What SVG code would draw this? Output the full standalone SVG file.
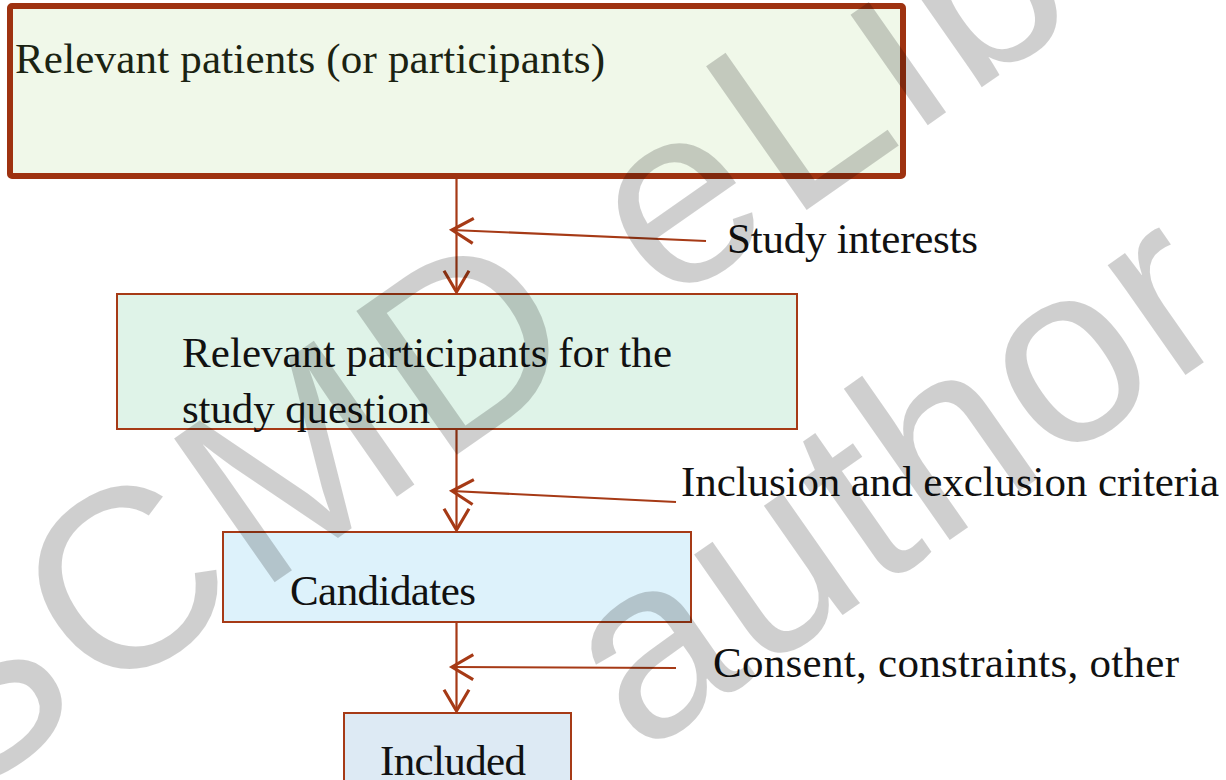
<svg xmlns="http://www.w3.org/2000/svg" width="1226" height="780" viewBox="0 0 1226 780">
  <style>
    .lbl { font-family: "Liberation Serif", "Times New Roman", serif; font-size: 43px; fill: #111; }
    .t1 { fill: #1b2312; }
    .box { stroke: #a63a16; stroke-width: 2; }
    .conn { stroke: #a63a16; stroke-width: 2.2; fill: none; }
    .wm { font-family: "Liberation Sans", Arial, sans-serif; font-size: 255px; fill: #000; fill-opacity: 0.19; }
  </style>
  <defs>
    <marker id="arr" markerUnits="userSpaceOnUse" markerWidth="30" markerHeight="30" viewBox="-20 -12 24 24" refX="0" refY="0" orient="auto">
      <path d="M -17 -10 L 0 0 L -17 10" fill="none" stroke="#a63a16" stroke-width="2.5"/>
    </marker>
  </defs>
  <rect width="1226" height="780" fill="#ffffff"/>

  <g id="node-patients">
    <rect x="10" y="6" width="893" height="170" rx="2" fill="#f0f8e9" stroke="#9e3210" stroke-width="6"/>
    <text class="lbl t1" x="15" y="73" textLength="590">Relevant patients (or participants)</text>
  </g>

  <g id="node-relevant">
    <rect class="box" x="117" y="294" width="680" height="135" fill="#dff3e8"/>
    <text class="lbl" x="182" y="367" textLength="490">Relevant participants for the</text>
    <text class="lbl" x="182" y="423" textLength="248">study question</text>
  </g>

  <g id="node-candidates">
    <rect class="box" x="223" y="532" width="468" height="90" fill="#ddf2fb"/>
    <text class="lbl" x="290" y="605" textLength="186">Candidates</text>
  </g>

  <g id="node-included">
    <rect class="box" x="344" y="713" width="227" height="80" fill="#ddeaf4"/>
    <text class="lbl" x="380" y="775" textLength="146">Included</text>
  </g>

  <g id="connectors">
    <line class="conn" x1="456.5" y1="179" x2="456.5" y2="292" marker-end="url(#arr)"/>
    <line class="conn" x1="706" y1="241" x2="452" y2="230" marker-end="url(#arr)"/>
    <line class="conn" x1="456.5" y1="430" x2="456.5" y2="530" marker-end="url(#arr)"/>
    <line class="conn" x1="676" y1="502" x2="452" y2="491" marker-end="url(#arr)"/>
    <line class="conn" x1="456.5" y1="623" x2="456.5" y2="711" marker-end="url(#arr)"/>
    <line class="conn" x1="676" y1="668" x2="452" y2="667" marker-end="url(#arr)"/>
  </g>

  <g id="labels">
    <text class="lbl" x="727" y="253" textLength="251">Study interests</text>
    <text class="lbl" x="681" y="496" textLength="538">Inclusion and exclusion criteria</text>
    <text class="lbl" x="713" y="677" textLength="466">Consent, constraints, other</text>
  </g>

  <g id="watermark">
    <text class="wm" x="-49" y="809" letter-spacing="10" transform="rotate(-35 -49 809)">SCMD eLibr</text>
    <text class="wm" x="640" y="757" letter-spacing="2" transform="rotate(-35 640 757)">author</text>
  </g>
</svg>
